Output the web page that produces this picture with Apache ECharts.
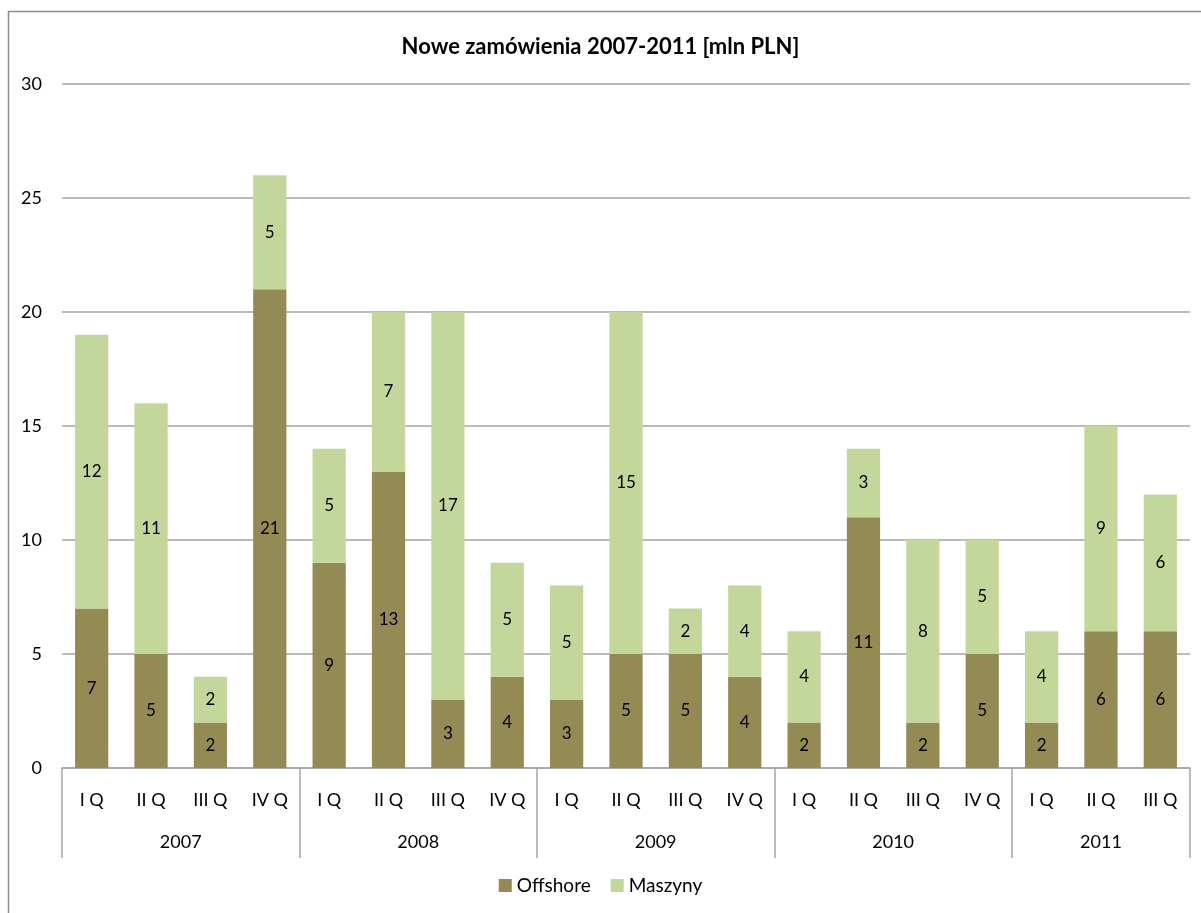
<!DOCTYPE html>
<html>
<head>
<meta charset="utf-8">
<script src="https://cdn.jsdelivr.net/npm/echarts@6/dist/echarts.min.js"></script>
<style>
  html, body { margin: 0; padding: 0; background: #fff; }
  #main { width: 1201px; height: 913px; }
</style>
</head>
<body>
<div id="main"></div>
<script>
// dane
const years = ['2007', '2008', '2009', '2010', '2011'];
const quartersPerYear = [4, 4, 4, 4, 3];
const quarters = ['I Q', 'II Q', 'III Q', 'IV Q',
                  'I Q', 'II Q', 'III Q', 'IV Q',
                  'I Q', 'II Q', 'III Q', 'IV Q',
                  'I Q', 'II Q', 'III Q', 'IV Q',
                  'I Q', 'II Q', 'III Q'];
const offshore = [7, 5, 2, 21, 9, 13, 3, 4, 3, 5, 5, 4, 2, 11, 2, 5, 2, 6, 6];
const maszyny = [12, 11, 2, 5, 5, 7, 17, 5, 5, 15, 2, 4, 4, 3, 8, 5, 4, 9, 6];
const yTicks = [0, 5, 10, 15, 20, 25, 30];

// granice lat na osi kategorii
const groupStarts = [];
const yearCenters = {};
let pos = 0;
quartersPerYear.forEach(function (n, i) {
  groupStarts.push(pos);
  yearCenters[pos + n / 2] = years[i];
  pos += n;
});

const font = 'Lato, "Open Sans", sans-serif';
const gray = '#A5A5A5';

const chart = echarts.init(document.getElementById('main'));

const option = {
  animation: false,
  backgroundColor: '#fff',
  color: ['#948A54', '#C4D79B'],
  textStyle: { fontFamily: font },
  title: {
    text: 'Nowe zamówienia 2007-2011 [mln PLN]',
    left: 'center',
    top: 31,
    textStyle: { fontFamily: font, fontSize: 22, fontWeight: 'bold', color: '#000' }
  },
  legend: {
    bottom: 13,
    left: 'center',
    icon: 'rect',
    itemWidth: 13,
    itemHeight: 13,
    itemGap: 20,
    itemStyle: { borderWidth: 0 },
    textStyle: { fontFamily: font, fontSize: 19, color: '#000' }
  },
  grid: { left: 62, right: 11, top: 84, bottom: 145 },
  xAxis: [{
    type: 'category',
    data: quarters,
    axisLine: { lineStyle: { color: gray, width: 1.5 } },
    axisTick: {
      show: true,
      length: 90,
      interval: function (index) { return groupStarts.indexOf(index) >= 0; },
      lineStyle: { color: gray, width: 1.5 }
    },
    axisLabel: { interval: 0, margin: 23, fontSize: 18, color: '#000', fontFamily: font }
  }, {
    type: 'value',
    position: 'bottom',
    min: 0,
    max: quarters.length,
    interval: 0.5,
    axisLine: { show: false },
    axisTick: { show: false },
    splitLine: { show: false },
    axisLabel: {
      margin: 65,
      fontSize: 18,
      color: '#000',
      fontFamily: font,
      formatter: function (v) { return yearCenters[v] || ''; }
    }
  }],
  yAxis: {
    type: 'value',
    min: yTicks[0],
    max: yTicks[yTicks.length - 1],
    interval: yTicks[1] - yTicks[0],
    axisLine: { show: false },
    axisTick: { show: false },
    axisLabel: { margin: 20, fontSize: 18, color: '#000', fontFamily: font },
    splitLine: { lineStyle: { color: gray, width: 1.5 } }
  },
  series: [{
    name: 'Offshore',
    type: 'bar',
    stack: 'total',
    barWidth: '56%',
    data: offshore,
    label: { show: true, position: 'inside', fontSize: 17, color: '#000', fontFamily: font }
  }, {
    name: 'Maszyny',
    type: 'bar',
    stack: 'total',
    barWidth: '56%',
    data: maszyny,
    label: { show: true, position: 'inside', fontSize: 17, color: '#000', fontFamily: font }
  }],
  graphic: [{
    type: 'rect',
    silent: true,
    shape: { x: 8.5, y: 11.5, width: 1400, height: 1200 },
    style: { fill: 'none', stroke: '#8C8C8C', lineWidth: 1.5 }
  }]
};

chart.setOption(option);
</script>
</body>
</html>
